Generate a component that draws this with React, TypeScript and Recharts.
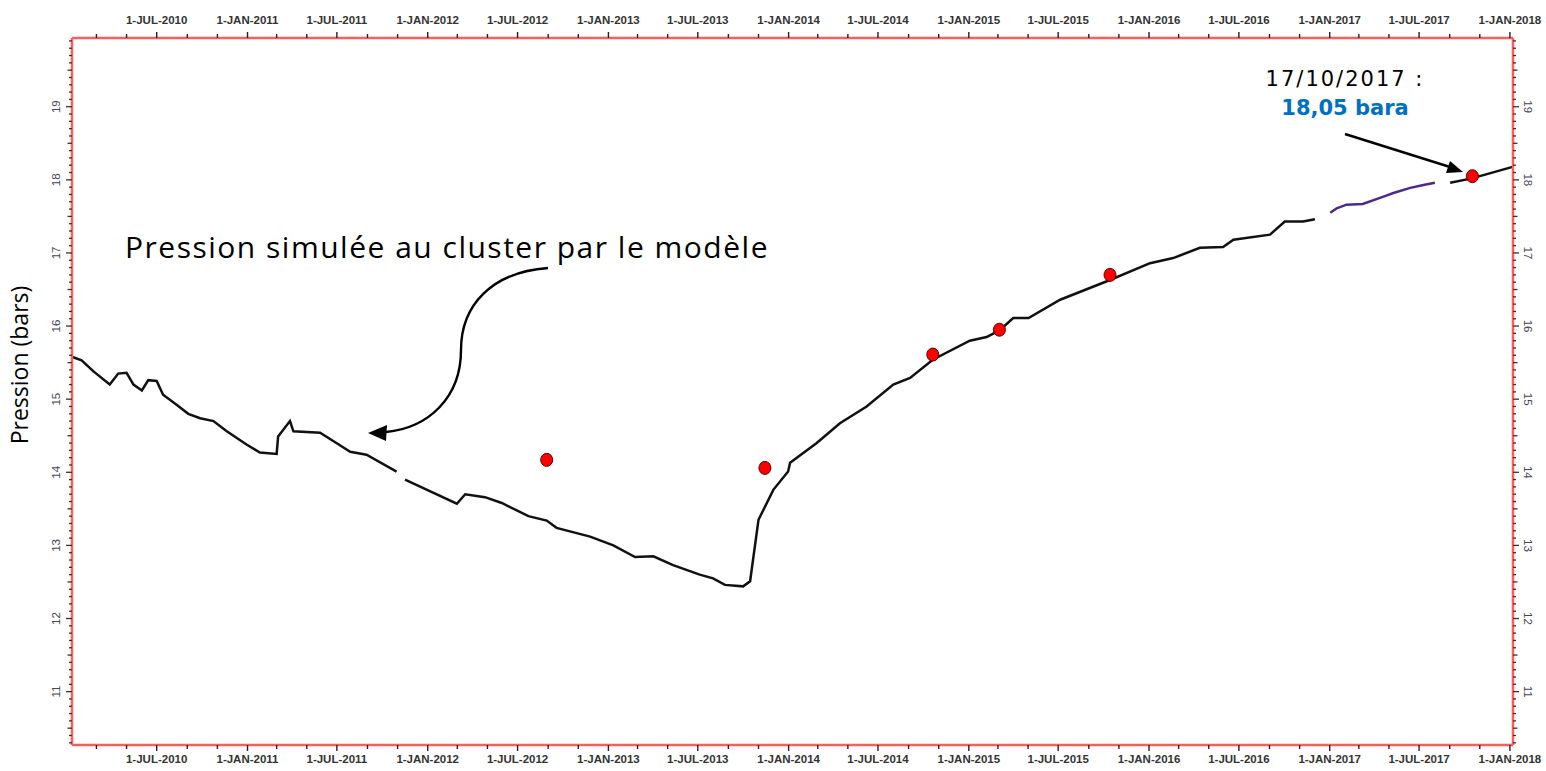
import { ComposedChart, Line, Scatter, XAxis, YAxis } from 'recharts';

// simulated pressure at the cluster (bars)
const SIM_2010_2011: [string, number][] = [
  ['2010-01-10', 15.58], ['2010-01-30', 15.53], ['2010-02-23', 15.38], ['2010-03-28', 15.2],
  ['2010-04-14', 15.35], ['2010-05-01', 15.36], ['2010-05-15', 15.2], ['2010-06-01', 15.12],
  ['2010-06-14', 15.26], ['2010-07-01', 15.25], ['2010-07-14', 15.06], ['2010-08-11', 14.92],
  ['2010-09-03', 14.8], ['2010-09-27', 14.74], ['2010-10-24', 14.7], ['2010-11-20', 14.56],
  ['2010-12-30', 14.38], ['2011-01-26', 14.27], ['2011-03-01', 14.25], ['2011-03-04', 14.49],
  ['2011-03-28', 14.7], ['2011-04-04', 14.56], ['2011-05-28', 14.54], ['2011-06-30', 14.4],
  ['2011-07-28', 14.28], ['2011-08-30', 14.24], ['2011-10-30', 14.01],
];

const SIM_2011_2016: [string, number][] = [
  ['2011-11-16', 13.9], ['2012-02-29', 13.57], ['2012-03-17', 13.7], ['2012-04-26', 13.66],
  ['2012-05-30', 13.58], ['2012-07-23', 13.4], ['2012-08-29', 13.34], ['2012-09-18', 13.24],
  ['2012-11-25', 13.12], ['2013-01-11', 13.0], ['2013-02-24', 12.84], ['2013-04-02', 12.85],
  ['2013-05-12', 12.73], ['2013-07-05', 12.6], ['2013-08-01', 12.55], ['2013-08-25', 12.46],
  ['2013-10-01', 12.44], ['2013-10-15', 12.51], ['2013-11-01', 13.35], ['2013-12-01', 13.76],
  ['2013-12-31', 14.01], ['2014-01-04', 14.13], ['2014-02-27', 14.4], ['2014-04-15', 14.67],
  ['2014-06-08', 14.9], ['2014-08-01', 15.2], ['2014-09-04', 15.29], ['2014-10-20', 15.54],
  ['2015-01-03', 15.8], ['2015-02-06', 15.85], ['2015-03-04', 15.94], ['2015-04-01', 16.11],
  ['2015-05-02', 16.11], ['2015-07-05', 16.36], ['2015-10-14', 16.63], ['2016-01-03', 16.86],
  ['2016-02-19', 16.93], ['2016-04-13', 17.07], ['2016-05-30', 17.08], ['2016-06-20', 17.18],
  ['2016-09-02', 17.25], ['2016-10-02', 17.43], ['2016-11-08', 17.43], ['2016-12-02', 17.46],
];

const SIM_2017_PURPLE: [string, number][] = [
  ['2017-01-02', 17.55], ['2017-01-15', 17.61], ['2017-02-04', 17.66], ['2017-03-09', 17.67],
  ['2017-04-20', 17.77], ['2017-05-10', 17.82], ['2017-06-13', 17.89], ['2017-07-10', 17.93],
  ['2017-08-02', 17.96],
];

const SIM_2017_2018: [string, number][] = [
  ['2017-09-02', 17.96], ['2017-10-16', 18.02], ['2018-01-08', 18.18],
];

// measured pressures (red dots)
const MEASURED: [string, number][] = [
  ['2012-08-29', 14.17], ['2013-11-14', 14.06], ['2014-10-20', 15.61],
  ['2015-03-04', 15.95], ['2015-10-14', 16.7], ['2017-10-17', 18.05],
];

const MONTHS = ['JAN', 'FEB', 'MAR', 'APR', 'MAY', 'JUN', 'JUL', 'AUG', 'SEP', 'OCT', 'NOV', 'DEC'];

const X_DOMAIN = [Date.UTC(2010, 0, 10, 12), Date.UTC(2018, 0, 7, 6)];
const Y_DOMAIN = [10.27, 19.94];

const toPoints = (rows: [string, number][]) => rows.map(([d, v]) => ({ x: Date.parse(d), y: v }));

const xTicks: number[] = [];
for (let yr = 2010; yr <= 2018; yr++) {
  for (let m = 0; m < 12; m += 2) {
    const t = Date.UTC(yr, m, 1);
    if (t >= X_DOMAIN[0] && t <= X_DOMAIN[1]) xTicks.push(t);
  }
}

const yTicks: number[] = [];
for (let i = 103; i <= 199; i++) yTicks.push(i / 10);

const AXIS_RED = '#ff5c5c';
const TICK_FONT = '"Liberation Sans", Arial, sans-serif';

const makeXTick = (side: 'top' | 'bottom') => (props: any) => {
  const { x, y, payload } = props;
  const d = new Date(payload.value);
  const m = d.getUTCMonth();
  const major = m === 0 || m === 6;
  const dir = side === 'top' ? -1 : 1;
  const len = major ? 6 : 4;
  return (
    <g>
      <line x1={x} x2={x} y1={y} y2={y + dir * len} stroke="#222" strokeWidth={1.4} />
      {major && (
        <text
          x={x}
          y={side === 'top' ? y - 14 : y + 18}
          textAnchor="middle"
          fontFamily={TICK_FONT}
          fontWeight="bold"
          fontSize={11.5}
          fill="#333"
        >
          {`1-${MONTHS[m]}-${d.getUTCFullYear()}`}
        </text>
      )}
    </g>
  );
};

const makeYTick = (side: 'left' | 'right') => (props: any) => {
  const { x, y, payload } = props;
  const v = payload.value as number;
  const whole = Math.abs(v - Math.round(v)) < 1e-6;
  const half = Math.abs(v * 2 - Math.round(v * 2)) < 1e-6;
  const len = whole ? 6 : half ? 4.5 : 3;
  const dir = side === 'left' ? -1 : 1;
  const lx = side === 'left' ? x - 16 : x + 15;
  return (
    <g>
      <line x1={x} x2={x + dir * len} y1={y} y2={y} stroke="#333" strokeWidth={1.3} />
      {whole && (
        <text
          transform={`translate(${lx},${y}) rotate(${side === 'left' ? -90 : 90})`}
          textAnchor="middle"
          dominantBaseline="central"
          fontFamily={TICK_FONT}
          fontSize={11.5}
          fill="#445"
        >
          {Math.round(v)}
        </text>
      )}
    </g>
  );
};

export default function App() {
  return (
    <div style={{ position: 'absolute', left: 0, top: 0, width: 1546, height: 771, background: '#fff' }}>
      <ComposedChart width={1546} height={771} margin={{ top: 8, right: 0, bottom: 0, left: 32 }}>
        <XAxis
          xAxisId="bottom"
          dataKey="x"
          type="number"
          orientation="bottom"
          domain={X_DOMAIN}
          allowDataOverflow
          ticks={xTicks}
          interval={0}
          height={26}
          tickSize={0}
          tickMargin={0}
          tickLine={false}
          tick={makeXTick('bottom')}
          axisLine={{ stroke: AXIS_RED, strokeWidth: 2.5 }}
        />
        <XAxis
          xAxisId="top"
          dataKey="x"
          type="number"
          orientation="top"
          domain={X_DOMAIN}
          allowDataOverflow
          ticks={xTicks}
          interval={0}
          height={30}
          tickSize={0}
          tickMargin={0}
          tickLine={false}
          tick={makeXTick('top')}
          axisLine={{ stroke: AXIS_RED, strokeWidth: 2.5 }}
        />
        <YAxis
          yAxisId="left"
          type="number"
          orientation="left"
          domain={Y_DOMAIN}
          allowDataOverflow
          ticks={yTicks}
          interval={0}
          width={40}
          tickSize={0}
          tickMargin={0}
          tickLine={false}
          tick={makeYTick('left')}
          axisLine={{ stroke: AXIS_RED, strokeWidth: 2.5 }}
        />
        <YAxis
          yAxisId="right"
          type="number"
          orientation="right"
          domain={Y_DOMAIN}
          allowDataOverflow
          ticks={yTicks}
          interval={0}
          width={33}
          tickSize={0}
          tickMargin={0}
          tickLine={false}
          tick={makeYTick('right')}
          axisLine={{ stroke: AXIS_RED, strokeWidth: 2.5 }}
        />
        <Line xAxisId="bottom" yAxisId="left" data={toPoints(SIM_2010_2011)} dataKey="y" type="linear"
          stroke="#111" strokeWidth={2.5} dot={false} isAnimationActive={false} />
        <Line xAxisId="bottom" yAxisId="left" data={toPoints(SIM_2011_2016)} dataKey="y" type="linear"
          stroke="#111" strokeWidth={2.5} dot={false} isAnimationActive={false} />
        <Line xAxisId="bottom" yAxisId="left" data={toPoints(SIM_2017_PURPLE)} dataKey="y" type="linear"
          stroke="#4b2a8c" strokeWidth={2.5} dot={false} isAnimationActive={false} />
        <Line xAxisId="bottom" yAxisId="left" data={toPoints(SIM_2017_2018)} dataKey="y" type="linear"
          stroke="#111" strokeWidth={2.5} dot={false} isAnimationActive={false} />
        <Line xAxisId="top" yAxisId="right" data={toPoints(SIM_2017_2018)} dataKey="y" type="linear"
          stroke="none" dot={false} isAnimationActive={false} />
        <Scatter
          xAxisId="bottom"
          yAxisId="left"
          data={toPoints(MEASURED)}
          dataKey="y"
          isAnimationActive={false}
          shape={(p: any) => <ellipse cx={p.cx} cy={p.cy} rx={6} ry={6.5} fill="#ff0000" stroke="#5a0000" strokeWidth={1} />}
        />
      </ComposedChart>

      <svg width={1546} height={771} style={{ position: 'absolute', left: 0, top: 0, pointerEvents: 'none' }}>
        <text
          transform="translate(28,365) rotate(-90)"
          textAnchor="middle"
          fontFamily='"Open Sans", sans-serif'
          fontSize={23}
          fill="#000"
        >
          Pression (bars)
        </text>

        <text x={125} y={258} fontFamily='"Open Sans", sans-serif' fontSize={30} letterSpacing={1.5} fill="#000">
          Pression simulée au cluster par le modèle
        </text>
        <path
          d="M 548 268 C 492 272, 461 305, 461 350 C 461 398, 428 428, 386 432"
          fill="none"
          stroke="#000"
          strokeWidth={2.4}
        />
        <polygon points="368,433 387,425 386,441" fill="#000" />

        <text x={1345} y={86} textAnchor="middle" fontFamily='"DejaVu Sans", sans-serif' fontSize={21}
          letterSpacing={2} fill="#000">
          17/10/2017 :
        </text>
        <text x={1345} y={115} textAnchor="middle" fontFamily='"DejaVu Sans", sans-serif' fontSize={21}
          fontWeight="bold" fill="#0070c0">
          18,05 bara
        </text>
        <line x1={1345} y1={134} x2={1450} y2={167} stroke="#000" strokeWidth={2.4} />
        <polygon points="1463,172 1446,173 1450,161" fill="#000" />
      </svg>
    </div>
  );
}
